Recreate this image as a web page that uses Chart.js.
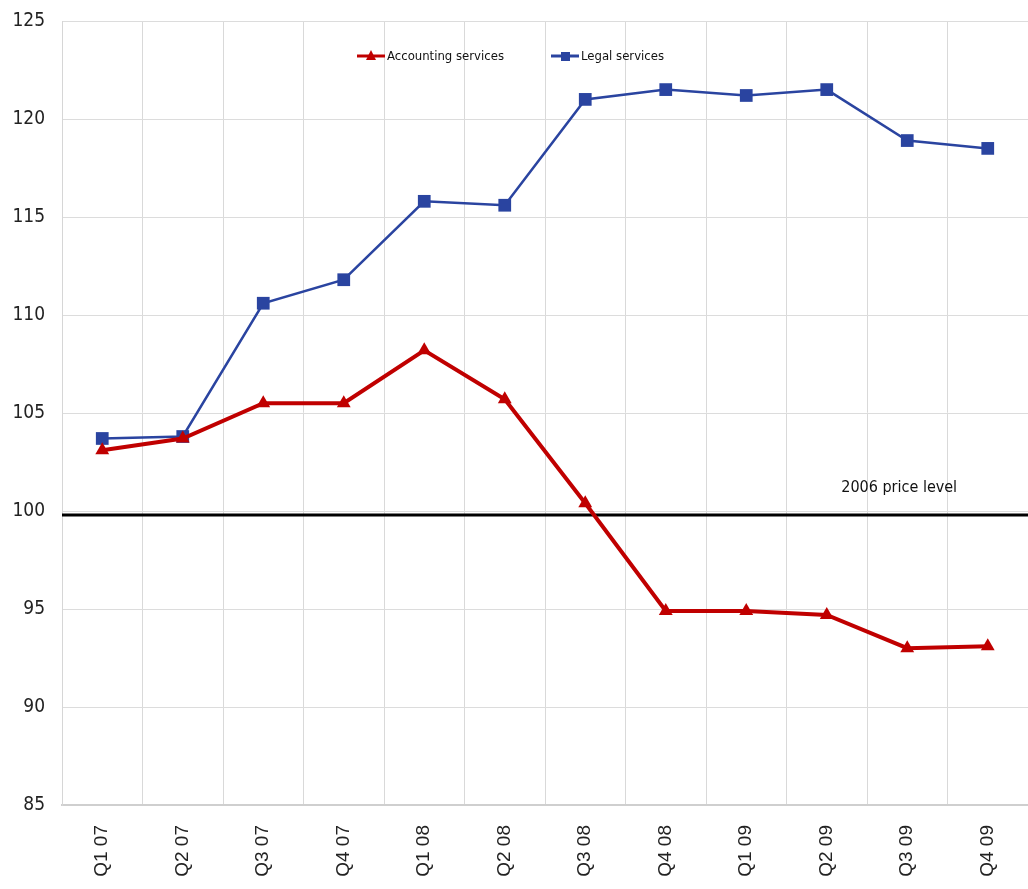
<!DOCTYPE html>
<html>
<head>
<meta charset="utf-8" />
<title>Accounting and legal services prices</title>
<script src="https://cdn.jsdelivr.net/npm/chart.js@4.4.1/dist/chart.umd.min.js"></script>
<style>
  html, body { margin: 0; padding: 0; background: #ffffff; overflow: hidden; }
  #wrap { position: relative; width: 1028px; height: 889px; }
</style>
</head>
<body>
<div id="wrap"><canvas id="priceChart"></canvas></div>
<script>
// Chart data
const quarters = ["Q1 07", "Q2 07", "Q3 07", "Q4 07", "Q1 08", "Q2 08", "Q3 08", "Q4 08", "Q1 09", "Q2 09", "Q3 09", "Q4 09"];
const accountingValues = [103.1, 103.7, 105.5, 105.5, 108.2, 105.7, 100.4, 94.9, 94.9, 94.7, 93.0, 93.1];
const legalValues = [103.7, 103.8, 110.6, 111.8, 115.8, 115.6, 121.0, 121.5, 121.2, 121.5, 118.9, 118.5];
const yTicks = [85, 90, 95, 100, 105, 110, 115, 120, 125];
const baseLevel = 99.8;
const baseLabel = "2006 price level";

const narrowFont = "'DejaVu Sans Condensed', 'Liberation Sans Narrow', sans-serif";

// Draws the 2006 reference line across the whole plot
const baseLinePlugin = {
  id: "baseLine",
  beforeDatasetsDraw: (chart) => {
    const { ctx, chartArea, scales } = chart;
    const y = scales.y.getPixelForValue(baseLevel);
    ctx.save();
    ctx.strokeStyle = "#000000";
    ctx.lineWidth = 3;
    ctx.beginPath();
    ctx.moveTo(chartArea.left, y);
    ctx.lineTo(chartArea.right, y);
    ctx.stroke();

    ctx.font = "16px " + narrowFont;
    ctx.fillStyle = "#111111";
    ctx.textAlign = "center";
    ctx.textBaseline = "middle";
    ctx.fillText(baseLabel, scales.x.getPixelForValue(9.9), y - 27);
    ctx.restore();
  },
};

// Legend drawn inside the plot area, like the original
const innerLegendPlugin = {
  id: "innerLegend",
  afterDraw: (chart) => {
    const { ctx } = chart;
    const items = [
      { ds: chart.data.datasets[0], x: 357 },
      { ds: chart.data.datasets[1], x: 551 },
    ];
    const y = 56;
    ctx.save();
    ctx.font = "13px " + narrowFont;
    ctx.textBaseline = "middle";
    ctx.textAlign = "left";
    items.forEach((item) => {
      const ds = item.ds;
      ctx.strokeStyle = ds.borderColor;
      ctx.lineWidth = 3;
      ctx.beginPath();
      ctx.moveTo(item.x, y);
      ctx.lineTo(item.x + 28, y);
      ctx.stroke();

      ctx.fillStyle = ds.borderColor;
      const cx = item.x + 14;
      if (ds.pointStyle === "triangle") {
        ctx.beginPath();
        ctx.moveTo(cx, y - 6);
        ctx.lineTo(cx + 5, y + 4);
        ctx.lineTo(cx - 5, y + 4);
        ctx.closePath();
        ctx.fill();
      } else {
        ctx.fillRect(cx - 4, y - 4, 9, 9);
      }

      ctx.fillStyle = "#111111";
      ctx.fillText(ds.label, item.x + 30, y + 1);
    });
    ctx.restore();
  },
};

const ctx = document.getElementById("priceChart").getContext("2d");

const priceChart = new Chart(ctx, {
  type: "line",
  data: {
    labels: quarters,
    datasets: [
      {
        label: "Accounting services",
        data: accountingValues,
        borderColor: "#c00000",
        backgroundColor: "#c00000",
        borderWidth: 4,
        pointStyle: "triangle",
        pointRadius: 8,
        pointBorderWidth: 0,
        tension: 0,
      },
      {
        label: "Legal services",
        data: legalValues,
        borderColor: "#2a44a0",
        backgroundColor: "#2a44a0",
        borderWidth: 2.5,
        pointStyle: "rect",
        pointRadius: 9,
        pointBorderWidth: 0,
        tension: 0,
      },
    ],
  },
  options: {
    responsive: true,
    maintainAspectRatio: false,
    animation: false,
    layout: {
      autoPadding: false,
      padding: { top: 21, right: -6, left: 0, bottom: 0 },
    },
    plugins: {
      legend: { display: false },
      tooltip: { enabled: false },
    },
    scales: {
      x: {
        offset: true,
        grid: {
          offset: true,
          color: "#d9d9d9",
          lineWidth: 1,
          drawTicks: false,
        },
        border: { color: "#cfcfcf", width: 2 },
        ticks: {
          minRotation: 90,
          maxRotation: 90,
          padding: 20,
          color: "#222222",
          font: { family: "'Liberation Sans', Arial, sans-serif", size: 19 },
        },
        afterFit: (scale) => {
          scale.height = 84;
          // let the plot run to the right edge like the original
          scale.paddingLeft = 0;
          scale.paddingRight = 0;
        },
      },
      y: {
        min: 85,
        max: 125,
        afterBuildTicks: (scale) => {
          scale.ticks = yTicks.map((v) => ({ value: v }));
        },
        grid: {
          color: "#dcdcdc",
          lineWidth: 1,
          drawTicks: false,
        },
        border: { color: "#d6d6d6", width: 1 },
        ticks: {
          padding: 17,
          color: "#222222",
          font: { family: narrowFont, size: 19 },
        },
        afterFit: (scale) => {
          scale.width = 62;
          scale.paddingTop = 0;
          scale.paddingBottom = 0;
        },
      },
    },
  },
  plugins: [baseLinePlugin, innerLegendPlugin],
});
</script>
</body>
</html>
